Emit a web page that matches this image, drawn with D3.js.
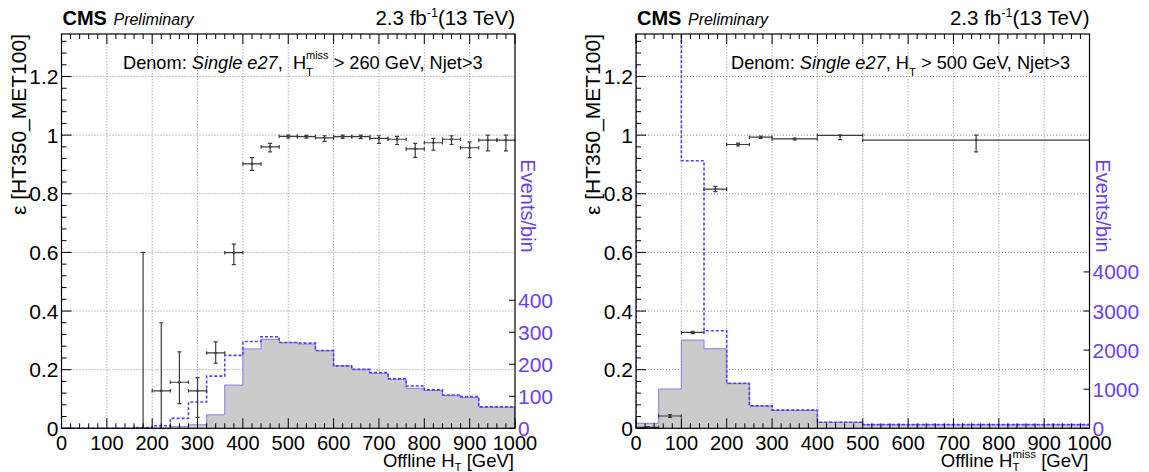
<!DOCTYPE html>
<html><head><meta charset="utf-8">
<script src="https://cdn.jsdelivr.net/npm/d3@7"></script>
<style>
body{margin:0;background:#fff}
svg{display:block}
text{font-family:"Liberation Sans",Arial,Helvetica,sans-serif;white-space:pre}
</style>
</head><body>
<svg id="c" width="1149" height="472"></svg>
<script>
// ---------------- DATA ----------------
const xTickLabels = [0,100,200,300,400,500,600,700,800,900,1000];
const effTickLabels = [0,0.2,0.4,0.6,0.8,1,1.2];
const leftEvtTickLabels = [0,100,200,300,400];
const rightEvtTickLabels = [0,1000,2000,3000,4000];

// Left panel: vs offline HT (40 GeV bins)
const leftBinEdges = [0,40,80,120,160,200,240,280,320,360,400,440,480,520,560,600,640,680,720,760,800,840,880,920,960,1000];
const leftPass = [0,0,0,0,0,1,5,11,42,135,248,278,268,263,242,195,184,172,153,125,118,102,96,66,66];
const leftAll  = [0,0,0,0,2,8,31,82,163,228,271,286,268,266,243,195,184,174,155,132,120,104,99,67,67];
const leftEffLo = [160,200,240,280,320,360,400,440,480,520,560,600,640,680,720,760,800,840,880,920,960];
const leftEffHi = [200,240,280,320,360,400,440,480,520,560,600,640,680,720,760,800,840,880,920,960,1000];
const leftEff   = [0,0.128,0.157,0.128,0.257,0.599,0.902,0.960,0.996,0.995,0.991,0.995,0.995,0.989,0.986,0.953,0.974,0.986,0.957,0.983,0.983];
const leftEffUp = [0.60,0.232,0.104,0.045,0.038,0.029,0.021,0.012,0.004,0.004,0.007,0.005,0.005,0.009,0.010,0.019,0.015,0.012,0.020,0.017,0.017];
const leftEffDn = [0,0.128,0.073,0.091,0.035,0.041,0.022,0.017,0.006,0.005,0.012,0.006,0.007,0.017,0.018,0.029,0.025,0.018,0.034,0.037,0.037];

// Right panel: vs offline HT miss (variable bins)
const rightBinEdges = [0,50,100,150,200,250,300,400,500,1000];
const rightPass = [128,1005,2258,2036,1141,570,460,153,92];
const rightAll  = [40000,24000,6844,2496,1151,574,464,154,93];
const rightEff   = [0.003,0.042,0.327,0.816,0.968,0.993,0.987,0.999,0.983];
const rightEffUp = [0.003,0.005,0.004,0.009,0.005,0.004,0.003,0.001,0.017];
const rightEffDn = [0.003,0.005,0.004,0.009,0.005,0.004,0.003,0.014,0.040];

// ---------------- DRAW ----------------
const svg = d3.select('#c');
const PURPLE = '#6a3ff0';
const Y0 = 428.3, Y1 = 34;

function rich(parent, x, y, segs, anchor, color) {
  const g = parent.append('g').attr('fill', color || '#000');
  let cx = 0;
  segs.forEach(s => {
    if (s.stack) {
      let w = 0;
      if (s.stack.sup) {
        const t = g.append('text').attr('x', cx).attr('y', s.stack.supDy).attr('font-size', s.stack.supSize).text(s.stack.sup);
        w = Math.max(w, t.node().getComputedTextLength());
      }
      if (s.stack.sub) {
        const t = g.append('text').attr('x', cx).attr('y', s.stack.subDy).attr('font-size', s.stack.subSize).text(s.stack.sub);
        w = Math.max(w, t.node().getComputedTextLength());
      }
      cx += w;
    } else {
      const t = g.append('text').attr('x', cx).attr('y', s.dy || 0).attr('font-size', s.size)
        .attr('font-style', s.italic ? 'italic' : null).attr('font-weight', s.bold ? 'bold' : null).text(s.t);
      cx += t.node().getComputedTextLength() + (s.gap || 0);
    }
  });
  const off = anchor === 'end' ? -cx : anchor === 'middle' ? -cx / 2 : 0;
  g.attr('transform', `translate(${x + off},${y})`);
  return g;
}

function stepPath(x, y, edges, vals) {
  const p = d3.path();
  p.moveTo(x(edges[0]), y(0));
  vals.forEach((v, i) => { p.lineTo(x(edges[i]), y(v)); p.lineTo(x(edges[i + 1]), y(v)); });
  p.lineTo(x(edges[edges.length - 1]), y(0));
  return p.toString();
}

const DS = 18.2;
const panels = [
  { id: 'L', x0: 61.5, x1: 515, evtMax: 1232, evtTicks: leftEvtTickLabels,
    edges: leftBinEdges, pass: leftPass, all: leftAll,
    effLo: leftEffLo, effHi: leftEffHi, eff: leftEff, up: leftEffUp, dn: leftEffDn,
    denom: [{t:'Denom: ', size:DS},{t:'Single e27', size:DS, italic:true},{t:',  H', size:DS},
            {stack:{sup:'miss', supSize:11, supDy:-10, sub:'T', subSize:11.5, subDy:7}},{t:' > 260 GeV, Njet>3', size:DS}],
    denomX: 123,
    xtitle: [{t:'Offline H', size:18.5},{stack:{sub:'T', subSize:11.5, subDy:4.5}},{t:' [GeV]', size:18.5}] },
  { id: 'R', x0: 636, x1: 1089.5, evtMax: 10085, evtTicks: rightEvtTickLabels,
    edges: rightBinEdges, pass: rightPass, all: rightAll,
    effLo: rightBinEdges.slice(0, -1), effHi: rightBinEdges.slice(1), eff: rightEff, up: rightEffUp, dn: rightEffDn,
    denom: [{t:'Denom: ', size:DS},{t:'Single e27', size:DS, italic:true},{t:', H', size:DS},
            {stack:{sub:'T', subSize:11.5, subDy:7}},{t:' > 500 GeV, Njet>3', size:DS}],
    denomX: 731,
    xtitle: [{t:'Offline H', size:18.5},{stack:{sup:'miss', supSize:11.5, supDy:-9, sub:'T', subSize:11.5, subDy:4.5}},{t:' [GeV]', size:18.5}] }
];

const defs = svg.append('defs');

panels.forEach(P => {
  const x = d3.scaleLinear().domain([0, 1000]).range([P.x0, P.x1]);
  const y = d3.scaleLinear().domain([0, 1.345]).range([Y0, Y1]);
  const ye = d3.scaleLinear().domain([0, P.evtMax]).range([Y0, Y1]);
  const g = svg.append('g');

  defs.append('clipPath').attr('id', 'clip' + P.id).append('rect')
    .attr('x', P.x0).attr('y', Y1).attr('width', P.x1 - P.x0).attr('height', Y0 - Y1);

  // grid
  const grid = g.append('g').attr('stroke', '#8a8a8a').attr('stroke-width', 1).attr('stroke-dasharray', '1,2');
  xTickLabels.slice(1, -1).forEach(t => grid.append('line').attr('x1', x(t)).attr('x2', x(t)).attr('y1', Y0).attr('y2', Y1));
  effTickLabels.slice(1).forEach(t => grid.append('line').attr('x1', P.x0).attr('x2', P.x1).attr('y1', y(t)).attr('y2', y(t)));

  // histograms
  const hg = g.append('g').attr('clip-path', `url(#clip${P.id})`);
  hg.append('path').attr('d', stepPath(x, ye, P.edges, P.pass)).attr('fill', '#cbcbcb').attr('stroke', '#8878f0').attr('stroke-width', 1);
  hg.append('path').attr('d', stepPath(x, ye, P.edges, P.all)).attr('fill', 'none').attr('stroke', '#5f38f2').attr('stroke-width', 1.6).attr('stroke-dasharray', '3,2');

  // efficiency points
  const eg = g.append('g').attr('stroke', '#3c3c3c').attr('stroke-width', 1.2).attr('clip-path', `url(#clip${P.id})`);
  P.eff.forEach((e, i) => {
    const xl = x(P.effLo[i]), xh = x(P.effHi[i]), xm = x((P.effLo[i] + P.effHi[i]) / 2);
    const yc = y(e), yu = y(e + P.up[i]), yd = y(e - P.dn[i]);
    eg.append('line').attr('x1', xl).attr('x2', xh).attr('y1', yc).attr('y2', yc);
    eg.append('line').attr('x1', xl).attr('x2', xl).attr('y1', yc - 1.8).attr('y2', yc + 1.8);
    eg.append('line').attr('x1', xh).attr('x2', xh).attr('y1', yc - 1.8).attr('y2', yc + 1.8);
    eg.append('line').attr('x1', xm).attr('x2', xm).attr('y1', yu).attr('y2', yd);
    eg.append('line').attr('x1', xm - 2).attr('x2', xm + 2).attr('y1', yu).attr('y2', yu);
    eg.append('line').attr('x1', xm - 2).attr('x2', xm + 2).attr('y1', yd).attr('y2', yd);
    eg.append('circle').attr('cx', xm).attr('cy', yc).attr('r', 1.3).attr('fill', '#3c3c3c').attr('stroke', 'none');
  });

  // ticks
  const tk = g.append('g').attr('stroke', '#000').attr('stroke-width', 1);
  x.ticks(50).forEach(t => {
    const major = t % 100 === 0;
    const L = major ? 10 : 5;
    tk.append('line').attr('x1', x(t)).attr('x2', x(t)).attr('y1', Y0).attr('y2', Y0 - L);
    tk.append('line').attr('x1', x(t)).attr('x2', x(t)).attr('y1', Y1).attr('y2', Y1 + L);
  });
  d3.range(0, 1.345, 0.04).forEach(t => {
    const major = Math.abs(t / 0.2 - Math.round(t / 0.2)) < 1e-6;
    const L = major ? 10 : 5;
    tk.append('line').attr('x1', P.x0).attr('x2', P.x0 + L).attr('y1', y(t)).attr('y2', y(t));
  });
  P.evtTicks.forEach(t => {
    tk.append('line').attr('x1', P.x1).attr('x2', P.x1 - 6).attr('y1', ye(t)).attr('y2', ye(t)).attr('stroke', '#000');
  });

  // frame
  g.append('rect').attr('x', P.x0).attr('y', Y1).attr('width', P.x1 - P.x0).attr('height', Y0 - Y1)
    .attr('fill', 'none').attr('stroke', '#000').attr('stroke-width', 1.2);

  // tick labels
  xTickLabels.forEach(t => g.append('text').attr('x', x(t)).attr('y', 449.5).attr('text-anchor', 'middle').attr('font-size', 20).text(t));
  effTickLabels.forEach(t => g.append('text').attr('x', P.x0 - 3).attr('y', y(t)).attr('dy', '0.36em').attr('text-anchor', 'end').attr('font-size', 21).text(t));
  P.evtTicks.forEach(t => g.append('text').attr('x', P.x1 + 3).attr('y', ye(t)).attr('dy', '0.36em').attr('font-size', 21).attr('fill', PURPLE).text(t));

  // axis titles
  g.append('text').attr('transform', `translate(${P.x0 - 36},${Y1}) rotate(-90)`).attr('text-anchor', 'end').attr('font-size', 21)
    .text('\u03B5 [HT350_MET100]');
  g.append('text').attr('transform', `translate(${P.x1 + 6},206) rotate(90)`).attr('text-anchor', 'middle').attr('font-size', 20)
    .attr('fill', PURPLE).text('Events/bin');
  rich(g, P.x1 - 1, 466.5, P.xtitle, 'end');

  // header
  rich(g, P.x0 + 1, 25, [{t:'CMS', size:20, bold:true, gap:6.5},{t:'Preliminary', size:16, italic:true}], 'start');
  rich(g, P.x1, 25, [{t:'2.3 fb', size:20.5},{t:'-1', size:12.5, dy:-8},{t:'(13 TeV)', size:20.5}], 'end');
  rich(g, P.denomX, 69, P.denom, 'start');
});
</script>
</body></html>
